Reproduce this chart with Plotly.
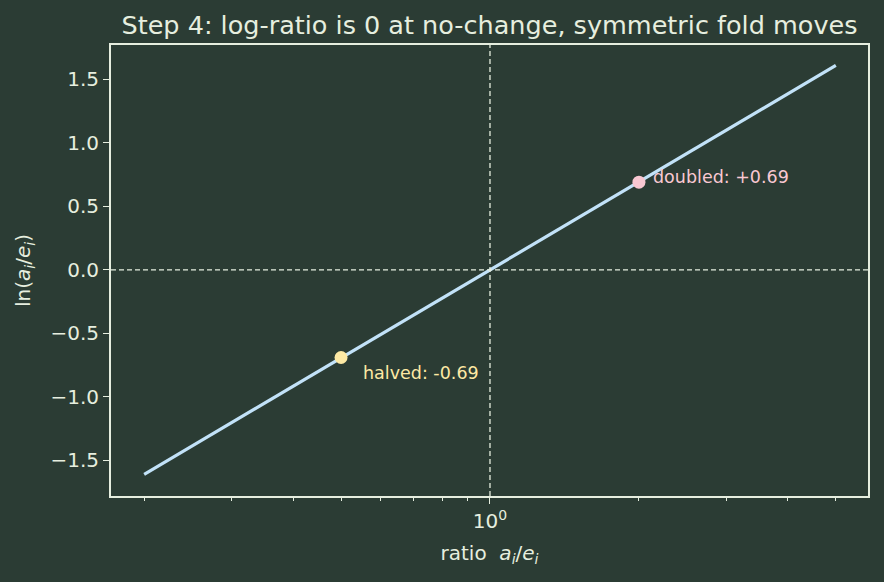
import numpy as np
import plotly.graph_objects as go

# data
ratios = [0.2, 0.5, 1.0, 2.0, 5.0]
log_ratio = [-1.609, -0.693, 0.0, 0.693, 1.609]
pt_ratios = [0.5, 2.0]
pt_vals = [-0.69, 0.69]
pt_labels = ["halved: -0.69", "doubled: +0.69"]
pt_colors = ["#fde9a4", "#f9c8d2"]
major_ticks = [1.0]
major_text = ["10<sup>0</sup>"]
minor_ticks = [0.2, 0.3, 0.4, 0.5, 0.6, 0.7, 0.8, 0.9, 2, 3, 4, 5]
y_ticks = [-1.5, -1.0, -0.5, 0.0, 0.5, 1.0, 1.5]

BG = "#2b3c34"
FG = "#e6eedf"
FONT = "DejaVu Sans"

fig = go.Figure()
fig.add_trace(go.Scatter(x=ratios, y=log_ratio, mode="lines",
                         line=dict(color="#c2e2f8", width=3.2), showlegend=False, hoverinfo="skip"))
fig.add_trace(go.Scatter(x=pt_ratios, y=pt_vals, mode="markers",
                         marker=dict(color=pt_colors, size=13, line=dict(width=0)),
                         showlegend=False))

# reference lines
fig.add_shape(type="line", xref="x", yref="paper", x0=1, x1=1, y0=0, y1=1,
              line=dict(color=FG, width=1.3, dash="5px,3px"))
fig.add_shape(type="line", xref="paper", yref="y", x0=0, x1=1, y0=0, y1=0,
              line=dict(color=FG, width=1.3, dash="5px,3px"))

offsets = [(20, 15), (12, -5)]
for xr, yv, lab, col, (ox, oy) in zip(pt_ratios, pt_vals, pt_labels, pt_colors, offsets):
    fig.add_annotation(x=np.log10(xr), y=yv, xref="x", yref="y", text=lab,
                       showarrow=False, xanchor="left", yanchor="middle",
                       xshift=ox, yshift=-oy, font=dict(color=col, size=17.5, family=FONT))

fig.update_layout(
    width=884, height=582,
    paper_bgcolor=BG, plot_bgcolor=BG,
    margin=dict(l=111, r=16, t=45, b=86),
    font=dict(family=FONT, color=FG, size=20),
    title=dict(text="Step 4: log-ratio is 0 at no-change, symmetric fold moves",
               x=(111 + 868) / 2 / 884, xanchor="center", y=1 - 25 / 582, yanchor="middle",
               font=dict(size=25.5, color=FG, family=FONT)),
)
fig.update_xaxes(type="log", range=[-0.766, 0.764],
                 tickmode="array", tickvals=major_ticks, ticktext=major_text,
                 ticks="outside", ticklen=6, tickwidth=1.3, tickcolor=FG,
                 minor=dict(tickmode="array", tickvals=minor_ticks, ticks="outside",
                            ticklen=3, tickwidth=1, tickcolor=FG, showgrid=False),
                 showgrid=False, zeroline=False,
                 showline=True, linecolor=FG, linewidth=2, mirror=True,
                 title=dict(text="ratio  <i>a<sub>i</sub></i>/<i>e<sub>i</sub></i>", standoff=14,
                            font=dict(size=20, color=FG)),
                 tickfont=dict(size=20, color=FG))
fig.update_yaxes(range=[-1.78, 1.77], tickmode="array", tickvals=y_ticks,
                 ticktext=[f"{v:.1f}".replace("-", "\u2212") for v in y_ticks],
                 ticks="outside", ticklen=6, tickwidth=1.3, tickcolor=FG,
                 showgrid=False, zeroline=False,
                 showline=True, linecolor=FG, linewidth=2, mirror=True,
                 title=dict(text="ln(<i>a<sub>i</sub></i>/<i>e<sub>i</sub></i>)", standoff=14,
                            font=dict(size=20, color=FG)),
                 tickfont=dict(size=20, color=FG))

fig.write_html("out.html")
